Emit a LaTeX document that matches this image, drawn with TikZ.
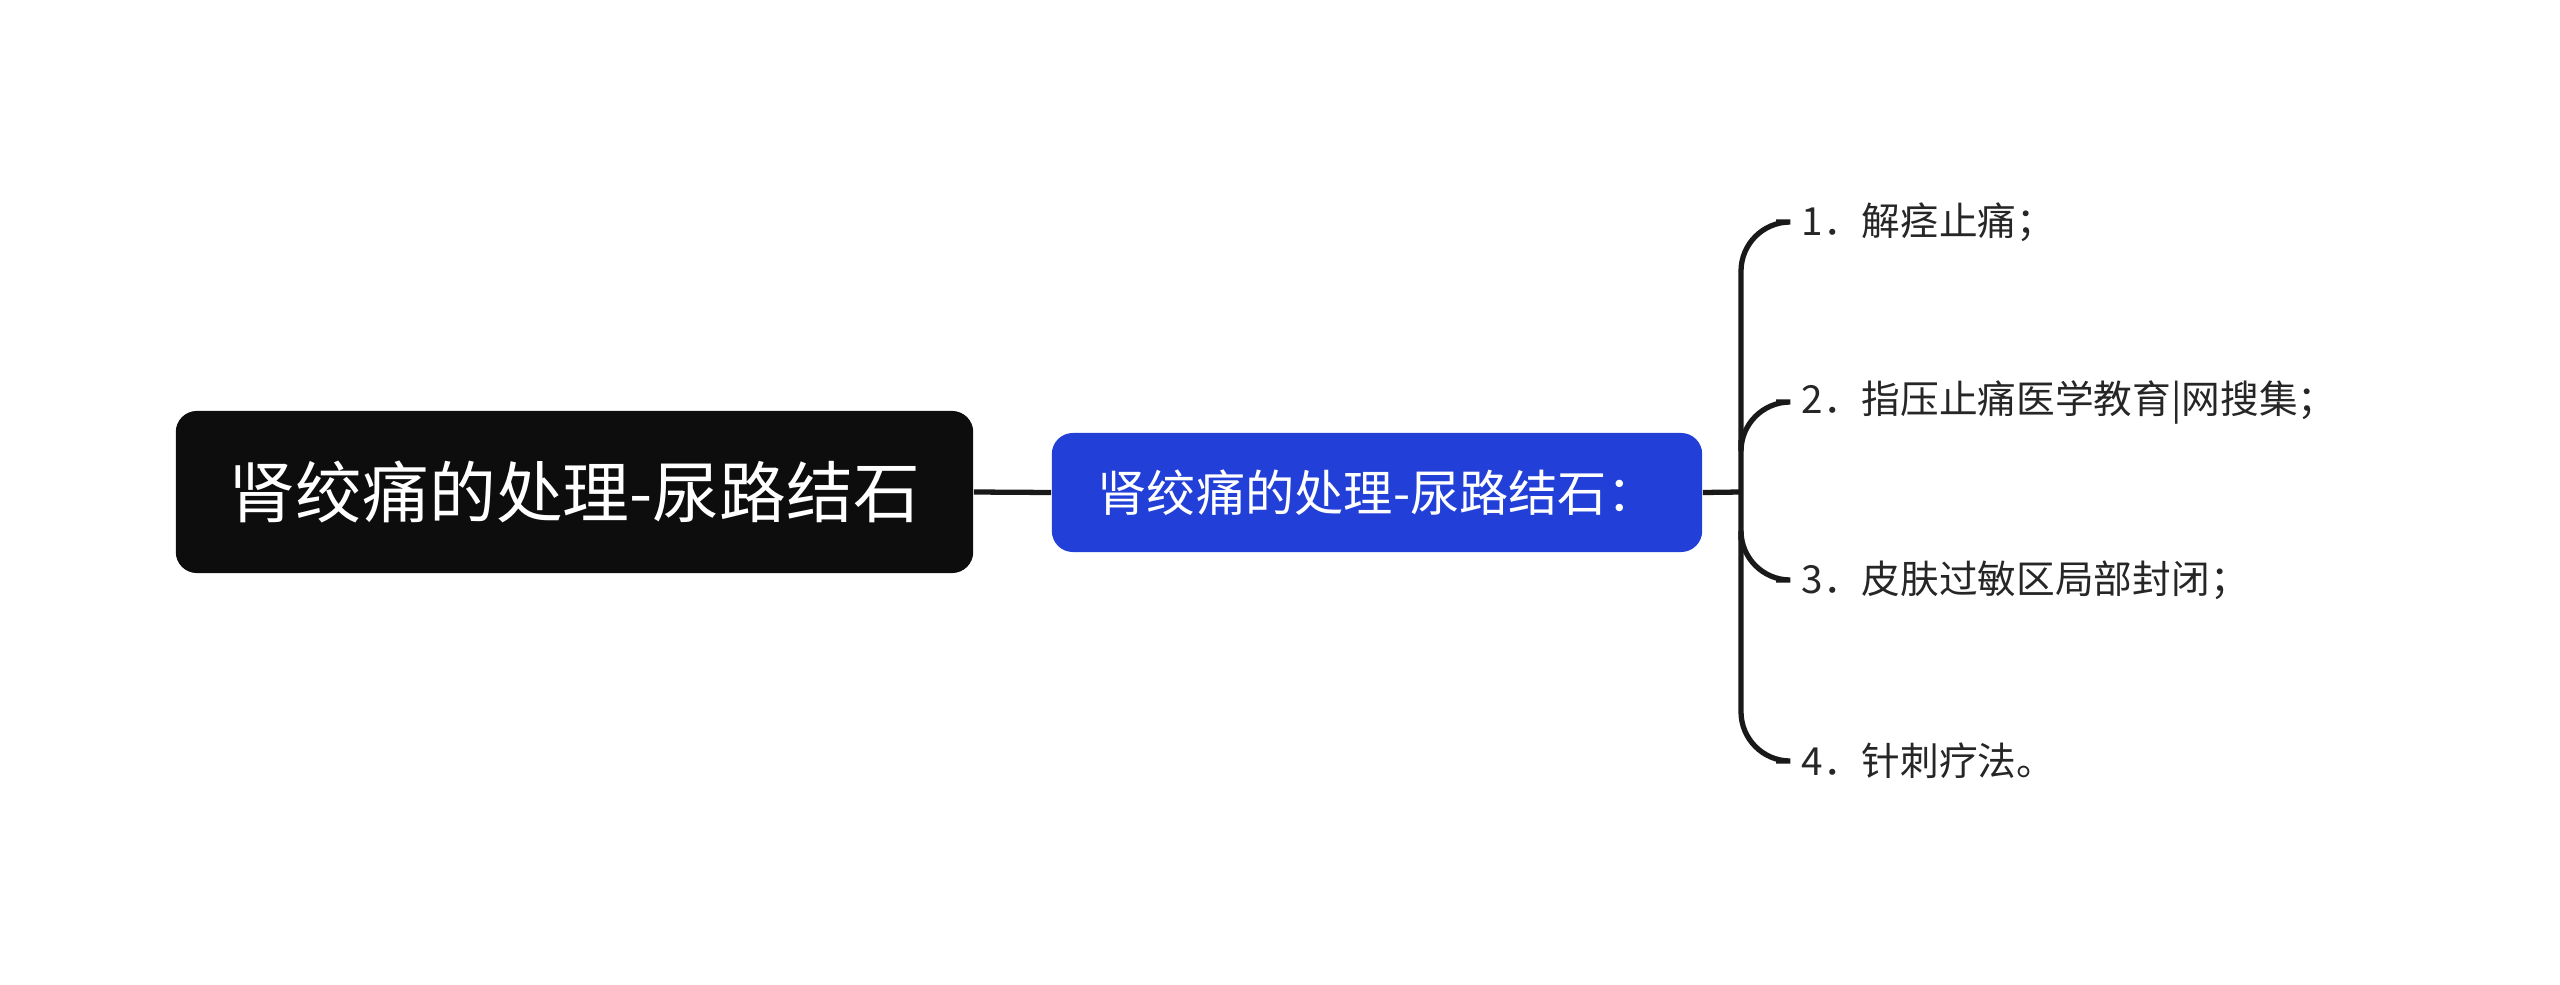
\documentclass[tikz,border=0pt]{standalone}
\usepackage{fontspec}
\setmainfont{Noto Sans CJK SC}
\begin{document}
\begin{tikzpicture}[x=0.01cm,y=-0.01cm,
  ln/.style={line width=1.5pt,draw=black!90},
  item/.style={anchor=west,inner sep=0pt,font=\fontsize{11}{13}\selectfont,text=black!85}]
\useasboundingbox (0,0) rectangle (2560,985);
\node[fill=black!95,rounded corners=6pt,minimum width=7.97cm,minimum height=1.62cm,text=white,font=\fontsize{19}{22}\selectfont] (root) at (574.5,492) {肾绞痛的处理-尿路结石};
\node[fill={rgb,255:red,34;green,64;blue,216},rounded corners=6pt,minimum width=6.5cm,minimum height=1.19cm,text=white,font=\fontsize{14}{17}\selectfont] (sub) at (1377,492.5) {肾绞痛的处理-尿路结石：};
\draw[ln] (root.east) -- (sub.west);
\coordinate (j) at (1741,492);
\draw[ln] (sub.east) -- (j);
\node[item] (a) at (1801,222) {1．解痉止痛；};
\node[item] (b) at (1801,402) {2．指压止痛医学教育|网搜集；};
\node[item] (c) at (1801,580) {3．皮肤过敏区局部封闭；};
\node[item] (d) at (1801,761) {4．针刺疗法。};
\draw[ln,rounded corners=14pt] (a.west)++(-25,0) -- (1741,222) -- (1741,761) -- ([xshift=-0.25cm]d.west);
\draw[ln,rounded corners=14pt] (1741,440) -- (1741,402) -- ([xshift=-0.25cm]b.west);
\draw[ln,rounded corners=14pt] (1741,540) -- (1741,580) -- ([xshift=-0.25cm]c.west);
\end{tikzpicture}
\end{document}
